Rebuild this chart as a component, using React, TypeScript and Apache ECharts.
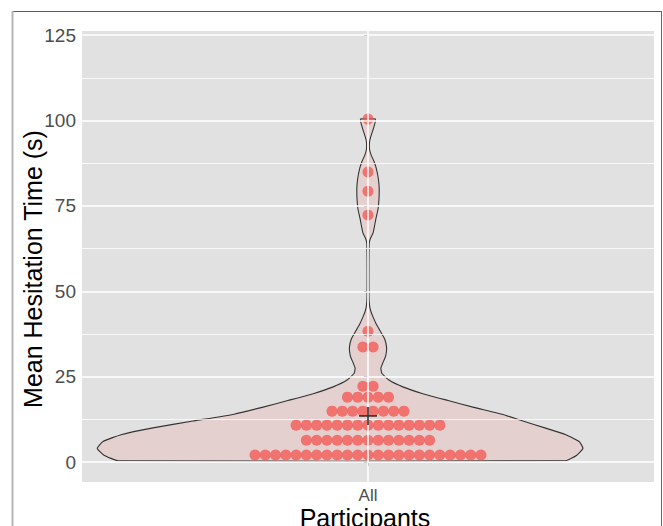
import React, { useEffect, useRef } from 'react';
import * as echarts from 'echarts';

// ---- data ----
const categoryLabel = 'All';
const yTicks = [0, 25, 50, 75, 100, 125];
const yMinorTicks = [12.5, 37.5, 62.5, 87.5, 112.5];

// dot plot: row centre values and number of dots in each row
const dotRowValues = [2.05, 6.4, 10.8, 14.9, 19.0, 22.2, 33.7, 38.3, 72.3, 79.3, 84.9, 100.4];
const dotRowCounts = [23, 13, 15, 8, 5, 2, 2, 1, 1, 1, 1, 1];

// violin outline: value, right and left half widths (x units, category at 0)
const violinValues = [
  0.38, 2, 4, 6, 8, 10, 12, 14, 16, 18, 20, 22, 24, 26, 27.5, 29, 31, 33.5, 36, 38.5,
  40.5, 42.5, 44, 45.5, 48, 56, 64, 65.5, 67, 69, 71, 74, 77, 80, 83, 86, 88, 90, 91.5,
  93.5, 95, 96.5, 98.5, 100.4,
];
const violinRightWidths = [
  0.415, 0.438, 0.451, 0.443, 0.415, 0.371, 0.325, 0.281, 0.222, 0.168, 0.115, 0.073,
  0.044, 0.029, 0.027, 0.031, 0.037, 0.039, 0.035, 0.025, 0.017, 0.0105, 0.0063, 0.0036,
  0.0021, 0.0019, 0.0025, 0.0052, 0.0105, 0.0136, 0.0162, 0.021, 0.023, 0.0235, 0.0216,
  0.0174, 0.0126, 0.0063, 0.0034, 0.0031, 0.0052, 0.0088, 0.0132, 0.0157,
];
const violinLeftWidths = [
  0.524, 0.554, 0.568, 0.556, 0.518, 0.451, 0.367, 0.281, 0.222, 0.168, 0.115, 0.073,
  0.044, 0.029, 0.027, 0.031, 0.037, 0.039, 0.035, 0.025, 0.017, 0.0105, 0.0063, 0.0036,
  0.0021, 0.0019, 0.0025, 0.0052, 0.0105, 0.0136, 0.0162, 0.021, 0.023, 0.0235, 0.0216,
  0.0174, 0.0126, 0.0063, 0.0034, 0.0031, 0.0052, 0.0088, 0.0132, 0.0157,
];
const meanValue = 13.5;

const yTitle = 'Mean Hesitation Time (s)';
const xTitle = 'Participants';

export default function App() {
  const ref = useRef<HTMLDivElement>(null);

  useEffect(() => {
    if (!ref.current) return;
    const chart = echarts.init(ref.current, undefined, { renderer: 'svg' });

    const dotSpacing = 0.02155;
    const dots: number[][] = [];
    dotRowValues.forEach((v, r) => {
      const n = dotRowCounts[r];
      for (let j = 0; j < n; j++) dots.push([(j - (n - 1) / 2) * dotSpacing, v]);
    });

    const font = '"Liberation Sans", Arial, sans-serif';

    const gridLines = [
      ...yMinorTicks.map((v) => ({ yAxis: v, lineStyle: { width: 0.75 } })),
      ...yTicks.map((v) => ({ yAxis: v, lineStyle: { width: 1.5 } })),
      { xAxis: 0, lineStyle: { width: 1.5 } },
    ];

    chart.setOption({
      animation: false,
      grid: {
        left: 82,
        right: 9,
        top: 31,
        bottom: 44,
        show: true,
        backgroundColor: '#E1E1E1',
        borderWidth: 0,
      },
      xAxis: {
        type: 'value',
        min: -0.6,
        max: 0.6,
        axisLine: { show: false },
        splitLine: { show: false },
        axisTick: { show: true, customValues: [0], length: 4, lineStyle: { color: '#333' } },
        axisLabel: {
          show: true,
          customValues: [0],
          formatter: () => categoryLabel,
          fontSize: 17,
          color: '#4D4D4D',
          fontFamily: font,
          margin: 5,
        },
      },
      yAxis: {
        type: 'value',
        min: -5.85,
        max: 126.2,
        axisLine: { show: false },
        splitLine: { show: false },
        axisTick: { show: true, customValues: yTicks, length: 4, lineStyle: { color: '#333' } },
        axisLabel: {
          show: true,
          customValues: yTicks,
          fontSize: 19,
          color: '#4D4D4D',
          fontFamily: font,
          margin: 6,
        },
      },
      series: [
        {
          type: 'scatter',
          data: [],
          z: 1,
          silent: true,
          markLine: {
            silent: true,
            symbol: 'none',
            label: { show: false },
            lineStyle: { color: '#FFFFFF', type: 'solid' },
            data: gridLines,
          },
        },
        {
          type: 'custom',
          z: 2,
          silent: true,
          data: [[0, 0]],
          renderItem: (_params: any, api: any) => {
            const pts: number[][] = [];
            for (let i = 0; i < violinValues.length; i++) {
              pts.push(api.coord([violinRightWidths[i], violinValues[i]]));
            }
            for (let i = violinValues.length - 1; i >= 0; i--) {
              pts.push(api.coord([-violinLeftWidths[i], violinValues[i]]));
            }
            return {
              type: 'polygon',
              shape: { points: pts, smooth: 0.15 },
              style: { fill: 'rgba(248,118,109,0.15)', stroke: '#333333', lineWidth: 1.1 },
            };
          },
        },
        {
          type: 'scatter',
          z: 3,
          data: dots,
          symbol: 'circle',
          symbolSize: 11,
          itemStyle: { color: '#F45B58' },
        },
        {
          type: 'custom',
          z: 5,
          silent: true,
          data: [[0, meanValue]],
          renderItem: (_params: any, api: any) => {
            const c = api.coord([api.value(0), api.value(1)]);
            const h = 9;
            const t = 1.6;
            return {
              type: 'group',
              children: [
                {
                  type: 'rect',
                  shape: { x: c[0] - h, y: c[1] - t / 2, width: 2 * h, height: t },
                  style: { fill: '#303030' },
                },
                {
                  type: 'rect',
                  shape: { x: c[0] - t / 2, y: c[1] - h, width: t, height: 2 * h },
                  style: { fill: '#303030' },
                },
              ],
            };
          },
        },
      ],
      graphic: [
        { type: 'line', shape: { x1: 12, y1: 11.5, x2: 662, y2: 11.5 }, style: { stroke: '#5a5a5a', lineWidth: 1 } },
        { type: 'line', shape: { x1: 12.5, y1: 11, x2: 12.5, y2: 526 }, style: { stroke: '#b5b5b5', lineWidth: 2 } },
        { type: 'line', shape: { x1: 661.5, y1: 11, x2: 661.5, y2: 526 }, style: { stroke: '#666666', lineWidth: 1 } },
        {
          type: 'text',
          x: 33,
          y: 269,
          rotation: Math.PI / 2,
          style: {
            text: yTitle,
            font: `25px ${font}`,
            fill: '#000',
            align: 'center',
            verticalAlign: 'middle',
          },
        },
        {
          type: 'text',
          x: 365,
          y: 518,
          style: {
            text: xTitle,
            font: `25px ${font}`,
            fill: '#000',
            align: 'center',
            verticalAlign: 'middle',
          },
        },
      ],
    });

    return () => chart.dispose();
  }, []);

  return (
    <div
      ref={ref}
      style={{ position: 'absolute', left: 0, top: 0, width: 663, height: 526 }}
    />
  );
}
